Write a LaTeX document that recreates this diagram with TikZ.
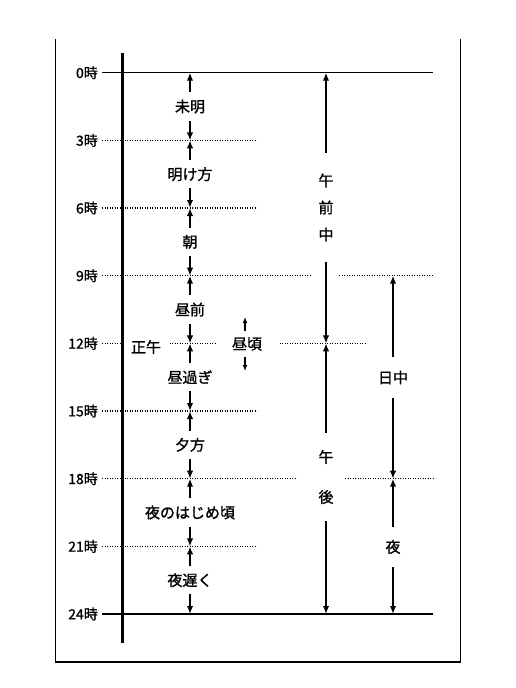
\documentclass[tikz,border=0pt]{standalone}
\usepackage{fontspec}
\newfontfamily\jp[FakeBold=1.2]{Noto Sans CJK JP}
\usetikzlibrary{arrows.meta}
\begin{document}
\begin{tikzpicture}[x=1pt,y=-1pt,
  frame/.style={line width=1.3pt},
  timeline/.style={line width=2.6pt},
  solidline/.style={line width=1.4pt},
  dotline/.style={line width=1.3pt, dash pattern=on 1.2pt off 1.3pt},
  arr/.style={line width=2pt, -{Latex[length=8pt,width=6.5pt]}},
  hourlab/.style={font=\jp\fontsize{14}{14}\selectfont, anchor=east, inner sep=0pt},
  lab/.style={font=\jp\fontsize{15}{15}\selectfont, inner sep=0pt, minimum height=28pt},
  vlab/.style={inner sep=0pt, align=center}
]
\useasboundingbox (0,0) rectangle (516,688);
% hour coordinates
\foreach \i/\y in {0/72.7,1/140.4,2/208,3/275.7,4/343.4,5/411,6/478.7,7/546.4,8/614}{
  \coordinate (L\i) at (102,\y);
  \coordinate (a\i) at (190,\y);
  \coordinate (b\i) at (326,\y);
  \coordinate (c\i) at (393,\y);
  \node[hourlab] (t\i) at (98,\y) {\pgfmathparse{int(3*\i)}\pgfmathresult 時};
}
% frame
\draw[frame] (55.7,39) -- (55.7,662) -- (460.7,662) -- (460.7,39);
% solid hour lines
\draw[solidline] (L0) -- (433,72.7);
\draw[solidline] (L8) -- (433,614);
% dotted hour lines
\draw[dotline] (L1) -- (257,140.4);
\draw[dotline] (L2) -- (257,208);
\draw[dotline] (L3) -- (311,275.7);
\draw[dotline] (339,275.7) -- (433,275.7);
\draw[dotline] (L4) -- (365,343.4);
\draw[dotline] (L5) -- (257,411);
\draw[dotline] (L6) -- (297,478.7);
\draw[dotline] (345,478.7) -- (433,478.7);
\draw[dotline] (L7) -- (257,546.4);
% labels on 12 line
\node[lab, fill=white, minimum width=44pt, minimum height=20pt] (shogo) at (146,347) {正午};
\node[lab, fill=white, minimum width=62pt, minimum height=26pt] (hiru) at (247,344) {昼頃};
\coordinate (hu) at (245,317);
\coordinate (hd) at (245,371);
\draw[arr, line width=1.5pt, -{Latex[length=6pt,width=5pt]}] (hiru.north -| hu) -- (hu);
\draw[arr, line width=1.5pt, -{Latex[length=6pt,width=5pt]}] (hiru.south -| hd) -- (hd);
% timeline
\draw[timeline] (122.7,53) -- (122.7,643);
% column 1
\node[lab] (m0) at (190,106.5) {未明};
\node[lab] (m1) at (190,174.2) {明け方};
\node[lab] (m2) at (190,241.8) {朝};
\node[lab] (m3) at (190,309.5) {昼前};
\node[lab] (m4) at (190,377.2) {昼過ぎ};
\node[lab] (m5) at (190,444.8) {夕方};
\node[lab] (m6) at (190,512.5) {夜のはじめ頃};
\node[lab] (m7) at (190,580.2) {夜遅く};
\foreach \i [evaluate=\i as \j using int(\i+1)] in {0,...,7}{
  \draw[arr] (m\i) -- (a\i);
  \draw[arr] (m\i) -- (a\j);
}
% column 2
\node[vlab, font=\jp\fontsize{15}{27}\selectfont, minimum height=109pt] (gozen) at (326,207.5) {午\\前\\中};
\node[vlab, font=\jp\fontsize{15}{40}\selectfont, minimum height=88pt] (gogo) at (326,477) {午\\後};
\draw[arr] (gozen) -- (b0);
\draw[arr] (gozen) -- (b4);
\draw[arr] (gogo) -- (b4);
\draw[arr] (gogo) -- (b8);
% column 3
\node[lab, minimum height=41pt] (nitchu) at (393,377.5) {日中};
\node[lab, minimum height=40pt] (yoru) at (393,547) {夜};
\draw[arr] (nitchu) -- (c3);
\draw[arr] (nitchu) -- (c6);
\draw[arr] (yoru) -- (c6);
\draw[arr] (yoru) -- (c8);
\end{tikzpicture}
\end{document}
